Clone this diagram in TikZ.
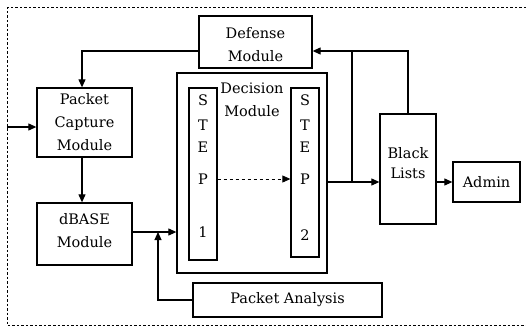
\documentclass[tikz,border=0pt]{standalone}
\usepackage{fontspec}
\setmainfont{DejaVu Serif}
\usetikzlibrary{arrows.meta}
\begin{document}
\begin{tikzpicture}[x=1pt,y=-1pt,
  box/.style={draw,line width=1.3pt,inner sep=0pt},
  txt/.style={font=\fontsize{14.5}{23}\selectfont,align=center,inner sep=0pt},
  conn/.style={line width=1.1pt},
  arr/.style={conn,-{Triangle[length=8pt,width=7pt]}}]
\useasboundingbox (0,0) rectangle (526,329);
% outer dashed frame
\draw[line width=1pt,dash pattern=on 2.5pt off 2pt] (526,8) -- (7,8) -- (7,325) -- (526,325);
% boxes
\node[box,minimum width=113pt,minimum height=52pt] (def) at (255.5,42) {};
\node[box,minimum width=150pt,minimum height=200pt] (dec) at (252,173) {};
\node[box,minimum width=28pt,minimum height=172pt] (s1) at (203,174) {};
\node[box,minimum width=28pt,minimum height=169pt] (s2) at (305,172.5) {};
\node[box,minimum width=95pt,minimum height=69pt] (pc) at (84.5,122.5) {};
\node[box,minimum width=95pt,minimum height=62pt] (db) at (84.5,234) {};
\node[box,minimum width=189pt,minimum height=34pt] (pa) at (287.5,300) {};
\node[box,minimum width=56pt,minimum height=110pt] (bl) at (408,169) {};
\node[box,minimum width=67pt,minimum height=40pt] (ad) at (486.5,182) {};
% texts
\node[txt] (tdef) at (255.5,45) {Defense\\Module};
\node[txt] (tdec) at (252,100) {Decision\\Module};
\node[txt] (tpc) at (84.5,122) {Packet\\Capture\\Module};
\node[txt] (tdb) at (84.5,231) {dBASE\\Module};
\node[txt] (tpa) at (287.5,300) {Packet Analysis};
\node[txt,font=\fontsize{14.5}{20}\selectfont] (tbl) at (408,163) {Black\\Lists};
\node[txt] (tad) at (486.5,182) {Admin};
\foreach \l/\y in {S/100,T/125,E/147,P/179}{
  \node[txt] (a\l) at (203,\y) {\l};
  \node[txt] (b\l) at (305,\y) {\l};
}
\node[txt] (a1) at (203,232) {1};
\node[txt] (b2) at (305,235) {2};
% coordinates
\coordinate (in) at (7,127);
\coordinate (dw) at ([yshift=-9pt]def.west);
\coordinate (de) at ([yshift=-9pt]def.east);
\coordinate (tap) at (158,232);
\coordinate (dx) at (327,182);
\coordinate (v1) at (352,182);
% connectors
\draw[arr] (dw) -| ([xshift=-2.5pt]pc.north);
\draw[arr] (in) -- (pc.west |- in);
\draw[arr] ([xshift=-2.5pt]pc.south) -- ([xshift=-2.5pt]db.north);
\draw[arr] (db.east |- tap) -- (dec.west |- tap);
\draw[arr] (pa.west) -| (tap);
\draw[arr,dashed,line width=0.8pt] (s1.east |- aP) -- (s2.west |- aP);
\draw[arr] (dx) -- (bl.west |- dx);
\draw[conn] (v1) -- (v1 |- de);
\draw[arr] (bl.north) |- (de);
\draw[arr] (bl.east |- dx) -- (ad.west);
\end{tikzpicture}
\end{document}
